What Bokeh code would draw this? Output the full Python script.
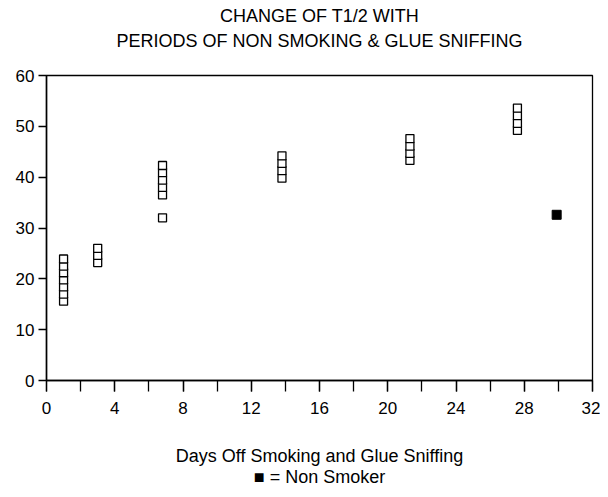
from bokeh.plotting import figure
from bokeh.models import FixedTicker, Title, Range1d
from bokeh.embed import file_html
from bokeh.resources import INLINE

# Data
days_smoker = [1, 1, 1, 1, 1, 1, 1,
               3, 3, 3,
               6.8, 6.8, 6.8, 6.8, 6.8, 6.8,
               13.8, 13.8, 13.8, 13.8,
               21.3, 21.3, 21.3, 21.3,
               27.6, 27.6, 27.6, 27.6]
t_half_smoker = [15.6, 17.0, 18.4, 19.8, 21.2, 22.5, 23.9,
                 23.2, 24.6, 26.0,
                 32.0, 36.5, 38.0, 39.4, 40.9, 42.3,
                 39.8, 41.3, 42.7, 44.2,
                 43.3, 44.7, 46.1, 47.6,
                 49.2, 50.6, 52.1, 53.6]
days_nonsmoker = [29.9]
t_half_nonsmoker = [32.6]

x_major = [0, 4, 8, 12, 16, 20, 24, 28, 32]
x_minor = list(range(0, 33, 2))
y_major = [0, 10, 20, 30, 40, 50, 60]

title_1 = "CHANGE OF T1/2 WITH"
title_2 = "PERIODS OF NON SMOKING & GLUE SNIFFING"
x_title = "Days Off Smoking and Glue Sniffing"
legend_note = "\u25A0 = Non Smoker"

FONT = "Liberation Sans"

p = figure(width=600, height=489, output_backend="svg", toolbar_location=None,
           x_range=Range1d(0, 32), y_range=Range1d(0, 60),
           min_border_left=46, min_border_right=8, min_border_top=0,
           min_border_bottom=0)
p.title = None
p.grid.visible = False
p.outline_line_color = "black"
p.outline_line_width = 1.3
p.background_fill_color = "white"
p.border_fill_color = "white"

p.xaxis.ticker = FixedTicker(ticks=x_major, minor_ticks=x_minor)
p.yaxis.ticker = FixedTicker(ticks=y_major, minor_ticks=[])
for ax in (p.xaxis, p.yaxis):
    ax.axis_line_color = "black"
    ax.axis_line_width = 1.5
    ax.major_tick_line_color = "black"
    ax.major_tick_line_width = 1.3
    ax.minor_tick_line_color = "black"
    ax.minor_tick_line_width = 1.3
    ax.major_tick_in = 0
    ax.minor_tick_in = 0
    ax.major_label_text_font = FONT
    ax.major_label_text_font_size = "17px"
    ax.major_label_text_color = "black"
p.xaxis.major_tick_out = 11
p.xaxis.minor_tick_out = 11
p.xaxis.major_label_standoff = 10
p.yaxis.major_tick_out = 8
p.yaxis.major_label_standoff = 4

p.xaxis.axis_label = x_title + "\n" + legend_note
p.xaxis.axis_label_text_font = FONT
p.xaxis.axis_label_text_font_size = "18px"
p.xaxis.axis_label_text_font_style = "normal"
p.xaxis.axis_label_text_color = "black"
p.xaxis.axis_label_text_line_height = 1.05
p.xaxis.axis_label_standoff = 29

p.scatter(days_smoker, t_half_smoker, marker="square", size=8,
          fill_color="white", line_color="black", line_width=1.3)
p.scatter(days_nonsmoker, t_half_nonsmoker, marker="square", size=9,
          fill_color="black", line_color="black", line_width=1)


def title_line(text, offset, standoff):
    p.add_layout(Title(text=text, align="center", text_font=FONT,
                       text_font_size="18px", text_font_style="normal",
                       text_color="black", offset=offset, standoff=standoff),
                 "above")


title_line(" ", 0, 3)          # spacing between titles and frame
title_line(title_2, 28, 0)
title_line(title_1, 0, 6)

open("out.html", "w").write(file_html(p, INLINE))
